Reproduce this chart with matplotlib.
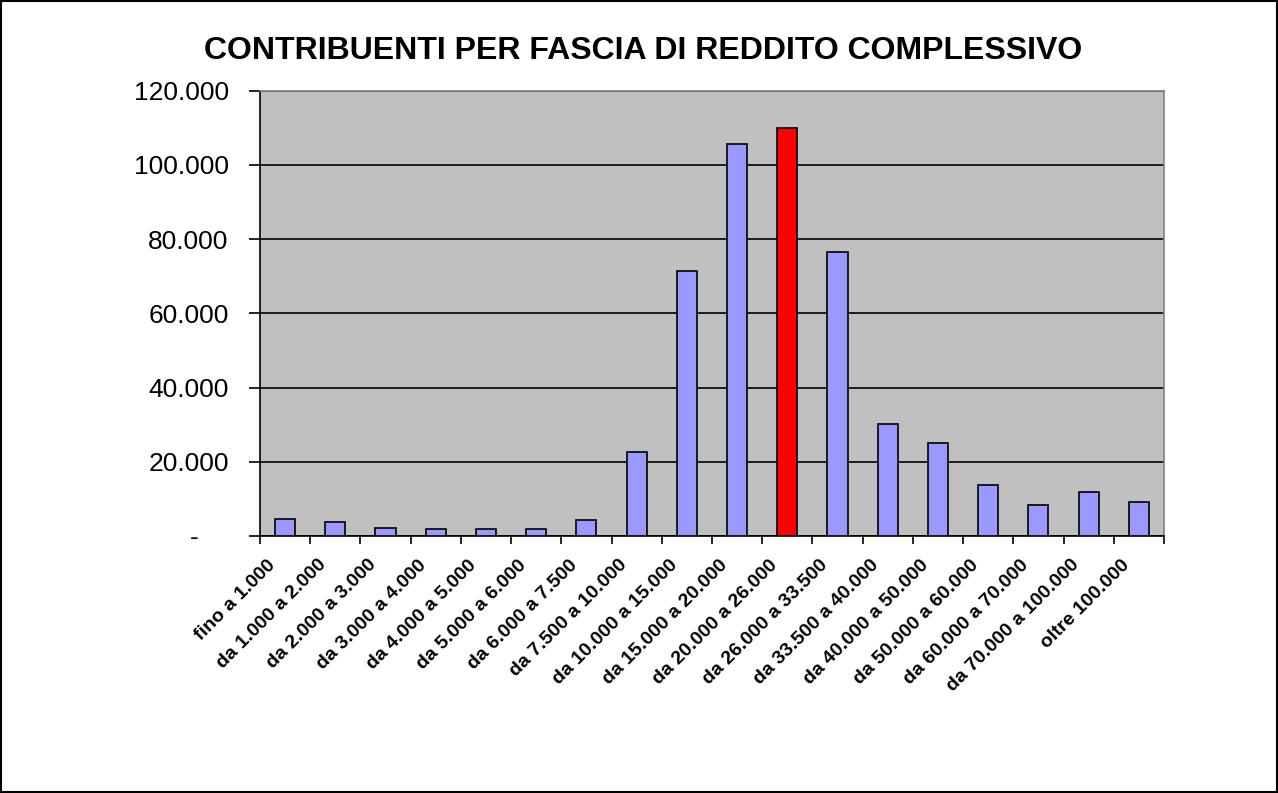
import matplotlib.pyplot as plt
from matplotlib.patches import Rectangle
from matplotlib.ticker import FuncFormatter, MultipleLocator
from matplotlib.transforms import ScaledTranslation
import numpy as np

plt.rcParams['font.family'] = ['Liberation Sans', 'DejaVu Sans']

fasce = ["fino a 1.000", "da 1.000 a 2.000", "da 2.000 a 3.000", "da 3.000 a 4.000",
         "da 4.000 a 5.000", "da 5.000 a 6.000", "da 6.000 a 7.500", "da 7.500 a 10.000",
         "da 10.000 a 15.000", "da 15.000 a 20.000", "da 20.000 a 26.000", "da 26.000 a 33.500",
         "da 33.500 a 40.000", "da 40.000 a 50.000", "da 50.000 a 60.000", "da 60.000 a 70.000",
         "da 70.000 a 100.000", "oltre 100.000"]
contribuenti = [4500, 3900, 2250, 1900, 1900, 1900, 4200, 22600, 71500, 105700,
                109900, 76500, 30300, 25100, 13700, 8400, 11800, 9100]
evidenziata = "da 20.000 a 26.000"

colori = ['#FF0000' if f == evidenziata else '#9999FF' for f in fasce]


def formato_migliaia(v, pos):
    # stile Excel: zero mostrato come trattino
    if v == 0:
        return '-    '
    return f"{int(v):,}".replace(',', '.')


fig = plt.figure(figsize=(12.78, 7.93), dpi=100)
ax = fig.add_axes([0.2034, 0.3241, 0.7074, 0.5615])
ax.set_facecolor('#C0C0C0')

x = np.arange(len(fasce))
ax.bar(x, contribuenti, width=0.4, color=colori, edgecolor='black', linewidth=1.2, zorder=3)

ax.set_xlim(-0.5, len(fasce) - 0.5)
ax.set_ylim(0, 120000)
ax.yaxis.set_major_locator(MultipleLocator(20000))
ax.yaxis.set_major_formatter(FuncFormatter(formato_migliaia))
ax.grid(axis='y', color='black', linewidth=1.2, zorder=1)

ax.set_xticks(x)
ax.set_xticklabels(fasce, rotation=45, ha='right', va='center', rotation_mode='anchor',
                   fontsize=14, fontweight='bold')
ax.set_xticks(np.arange(-0.5, len(fasce)), minor=True)
ax.tick_params(axis='x', which='major', length=0, pad=19)
ax.tick_params(axis='x', which='minor', length=6, width=1.2, direction='out')
ax.tick_params(axis='y', length=8, width=1.2, labelsize=19, pad=14.5)

# sposta le etichette un po' a sinistra come nell'originale
spostamento = ScaledTranslation(-0.12, 0, fig.dpi_scale_trans)
for etichetta in ax.get_xticklabels():
    etichetta.set_transform(etichetta.get_transform() + spostamento)

for s in ['top', 'right']:
    ax.spines[s].set_color('#808080')
    ax.spines[s].set_linewidth(1.2)
for s in ['left', 'bottom']:
    ax.spines[s].set_color('black')
    ax.spines[s].set_linewidth(1.2)

fig.text(0.5035, 0.9363, "CONTRIBUENTI PER FASCIA DI REDDITO COMPLESSIVO",
         ha='center', va='center', fontsize=23, fontweight='bold')

fig.patches.append(Rectangle((0.001, 0.001), 0.998, 0.998, transform=fig.transFigure,
                             fill=False, edgecolor='black', linewidth=1.5))

fig.savefig('out.png', dpi=100)
